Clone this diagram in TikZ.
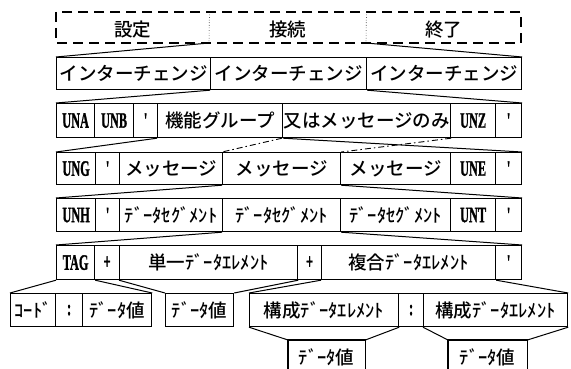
\documentclass[tikz,border=0pt]{standalone}
\usepackage{fontspec}
\usepackage{graphicx}
\newfontfamily\jp{Noto Sans CJK JP}[UprightFont=* Medium]
\newfontfamily\lat{Liberation Serif}[BoldFeatures={FakeBold=1.5}]
\newcommand\lt[1]{{\lat\bfseries\fontsize{22}{22}\selectfont\scalebox{0.56}[1]{#1}}}
\newcommand\cell[7][cellbox]{\node[#1, minimum width=#4pt-#3pt, minimum height=#6pt-#5pt, anchor=north west] (#2) at (#3,#5) {#7};}
\tikzset{
  jptext/.style={font=\jp\fontsize{18.5}{18.5}\selectfont},
  cellbox/.style={draw, line width=1.2pt, inner sep=0pt, jptext},
  plain/.style={inner sep=0pt, jptext},
  link/.style={line width=1pt},
  dlink/.style={line width=0.9pt, dash pattern=on 6pt off 3pt on 1.5pt off 3pt},
  dashbox/.style={line width=1.3pt, dash pattern=on 10pt off 6pt},
  divider/.style={line width=0.6pt, dotted}
}
\begin{document}
\begin{tikzpicture}[x=1pt,y=-1pt]
\useasboundingbox (0,0) rectangle (571,369);
% row 1 (dashed)
\cell[plain]{set}{56}{209}{12}{46}{設定}
\cell[plain]{conn}{209}{366}{12}{46}{接続}
\cell[plain]{fin}{366}{521}{12}{46}{終了}
\draw[dashbox] (56,12) rectangle (521,43);
\draw[divider] (set.north east) -- (209,43);
\draw[divider] (conn.north east) -- (366,43);
% row 2
\cell{ic1}{56}{210}{57}{89}{インターチェンジ}
\cell{ic2}{210}{366}{57}{89}{インターチェンジ}
\cell{ic3}{366}{521}{57}{89}{インターチェンジ}
\draw[link] (209,43) -- (ic1.north west);
\draw[link] (366,43) -- (ic3.north east);
% row 3
\cell{una}{56}{94}{103}{137}{\lt{UNA}}
\cell{unb}{94}{133}{103}{137}{\lt{UNB}}
\cell{apa}{133}{157}{103}{137}{\lt{'}}
\cell{fg}{157}{282}{103}{137}{機能グループ}
\cell{orm}{282}{450}{103}{137}{又はメッセージのみ}
\cell{unz}{450}{495}{103}{137}{\lt{UNZ}}
\cell{apb}{495}{521}{103}{137}{\lt{'}}
\draw[link] (ic2.south west) -- (una.north west);
\draw[link] (ic2.south east) -- (apb.north east);
% row 4
\cell{ung}{56}{95}{152}{184}{\lt{UNG}}
\cell{apc}{95}{119}{152}{184}{\lt{'}}
\cell{msa}{119}{222}{152}{184}{メッセージ}
\cell{msb}{222}{340}{152}{184}{メッセージ}
\cell{msc}{340}{450}{152}{184}{メッセージ}
\cell{une}{450}{495}{152}{184}{\lt{UNE}}
\cell{apd}{495}{521}{152}{184}{\lt{'}}
\draw[link] (fg.south west) -- (ung.north west);
\draw[link] (fg.south east) -- (apd.north east);
\draw[dlink] (orm.south west) -- (msb.north west);
\draw[dlink] (orm.south east) -- (msb.north east);
% row 5
\cell{unh}{56}{95}{198}{231}{\lt{UNH}}
\cell{ape}{95}{119}{198}{231}{\lt{'}}
\cell{dsa}{119}{222}{198}{231}{ﾃﾞｰﾀｾｸﾞﾒﾝﾄ}
\cell{dsb}{222}{340}{198}{231}{ﾃﾞｰﾀｾｸﾞﾒﾝﾄ}
\cell{dsc}{340}{450}{198}{231}{ﾃﾞｰﾀｾｸﾞﾒﾝﾄ}
\cell{unt}{450}{495}{198}{231}{\lt{UNT}}
\cell{apf}{495}{521}{198}{231}{\lt{'}}
\draw[link] (msb.south west) -- (unh.north west);
\draw[link] (msb.south east) -- (apf.north east);
% row 6
\cell{tag}{56}{94}{245}{279}{\lt{TAG}}
\cell{pla}{94}{119}{245}{279}{\lt{+}}
\cell{sgl}{119}{297}{245}{279}{単一ﾃﾞｰﾀｴﾚﾒﾝﾄ}
\cell{plb}{297}{321}{245}{279}{\lt{+}}
\cell{cmp}{321}{495}{245}{279}{複合ﾃﾞｰﾀｴﾚﾒﾝﾄ}
\cell{apg}{495}{521}{245}{279}{\lt{'}}
\draw[link] (dsb.south west) -- (tag.north west);
\draw[link] (dsb.south east) -- (apg.north east);
% row 7
\cell{code}{10}{55}{293}{326}{ｺｰﾄﾞ}
\cell{cola}{55}{82}{293}{326}{\lt{:}}
\cell{dva}{82}{151}{293}{326}{ﾃﾞｰﾀ値}
\cell{dvb}{165}{233}{293}{326}{ﾃﾞｰﾀ値}
\cell{cea}{249}{398}{293}{326}{構成ﾃﾞｰﾀｴﾚﾒﾝﾄ}
\cell{colb}{398}{423}{293}{326}{\lt{:}}
\cell{ceb}{423}{567}{293}{326}{構成ﾃﾞｰﾀｴﾚﾒﾝﾄ}
\draw[link] (tag.south west) -- (code.north west);
\draw[link] (tag.south east) -- (dva.north east);
\draw[link] (sgl.south west) -- (dvb.north west);
\draw[link] (sgl.south east) -- (dvb.north east);
\draw[link] (cmp.south west) -- (cea.north west);
\draw[link] (cmp.south east) -- (ceb.north east);
% row 8 (open at the bottom)
\cell[plain]{dvc}{288}{365}{340}{375}{ﾃﾞｰﾀ値}
\cell[plain]{dvd}{448}{527}{340}{375}{ﾃﾞｰﾀ値}
\draw[line width=1.2pt] (dvc.south west) -- (dvc.north west) -- (dvc.north east) -- (dvc.south east);
\draw[line width=1.2pt] (dvd.south west) -- (dvd.north west) -- (dvd.north east) -- (dvd.south east);
\draw[link] (cea.south west) -- (dvc.north west);
\draw[link] (cea.south east) -- (dvc.north east);
\draw[link] (ceb.south west) -- (dvd.north west);
\draw[link] (ceb.south east) -- (dvd.north east);
\end{tikzpicture}
\end{document}
